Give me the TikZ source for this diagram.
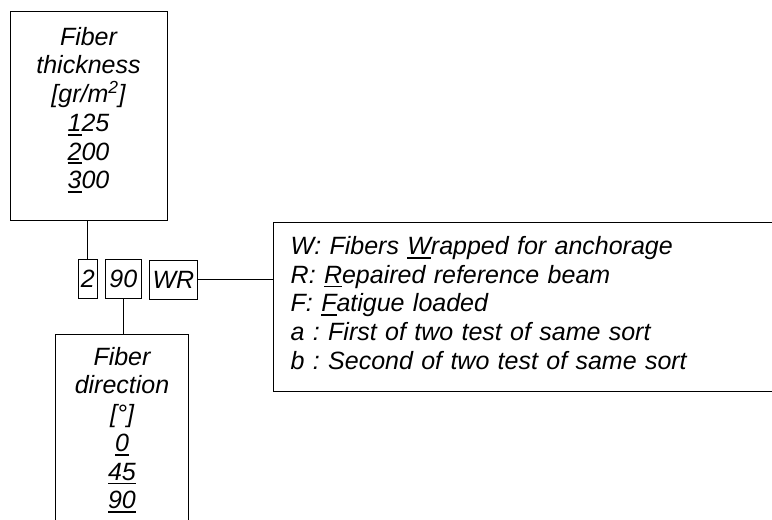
\documentclass[tikz,border=0pt]{standalone}
\usepackage{fontspec}
\setmainfont{Liberation Sans}
\frenchspacing
\newlength\ulw
\newcommand{\uln}[1]{\settowidth{\ulw}{#1}\rlap{\rule[-4.2pt]{\ulw}{1.8pt}}#1}
\newcommand{\dstrut}[1]{\rule[-#1]{0pt}{#1}}
\tikzset{
  box/.style={draw, line width=0.9pt, inner sep=0pt, font=\fontsize{25}{28.75}\selectfont\itshape\frenchspacing},
  conn/.style={line width=0.9pt},
}
\begin{document}
\begin{tikzpicture}[x=1pt,y=-1pt]
\useasboundingbox (0,0) rectangle (772,520);
\clip (0,0) rectangle (772,520);
\node[box, align=center, minimum width=157pt, minimum height=209pt] (thick) at (88.5,115.5)
  {Fiber\\thickness\\{}[gr/m\textsuperscript{2}]\\\uln{1}25\\\uln{2}00\\\uln{3}00\dstrut{15.2pt}};
\node[box, align=center, minimum width=132.6pt, minimum height=226pt] (dir) at (122,447)
  {Fiber\\direction\\{}[°]\\\uln{0}\\\uln{45}\\\uln{90}\dstrut{38pt}};
\node[box, align=left, text width=524.6pt, inner xsep=17.7pt, inner ysep=0pt, minimum height=169.4pt] (legend) at (553,307)
  {W: Fibers \uln{W}rapped for anchorage\\R: \uln{R}epaired reference beam\\F: \uln{F}atigue loaded\\a : First of two test of same sort\\b : Second of two test of same sort\dstrut{8.3pt}};
\node[box, minimum width=19.7pt, minimum height=39pt] (c2) at (87.85,279) {2};
\node[box, minimum width=36.7pt, minimum height=39pt] (c90) at (123.35,279) {90};
\node[box, minimum width=48.7pt, minimum height=39pt] (cwr) at (173.35,279.5) {WR};
\draw[conn] (c2.north) -- (c2.north |- thick.south);
\draw[conn] (c90.south) -- (c90.south |- dir.north);
\draw[conn] (cwr.east) -- (cwr.east -| legend.west);
\end{tikzpicture}
\end{document}
